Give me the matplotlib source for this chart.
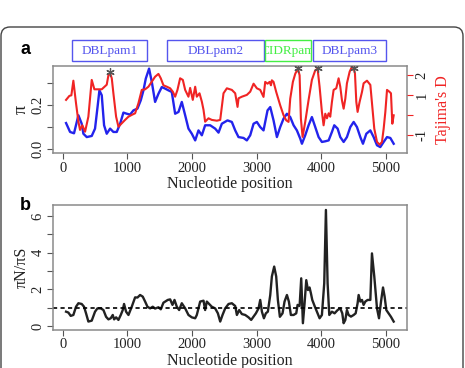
import matplotlib as mpl
import matplotlib.pyplot as plt
from matplotlib.patches import FancyBboxPatch, Rectangle
from matplotlib.transforms import IdentityTransform, blended_transform_factory

mpl.rcParams.update(
    {
        "font.family": "Liberation Serif",
        "font.size": 10,
        "axes.linewidth": 1.1,
        "axes.edgecolor": "#8a8a8a",
        "xtick.major.size": 4,
        "ytick.major.size": 4,
        "xtick.major.pad": 2,
        "ytick.major.pad": 2,
    }
)

# ---- panel a: nucleotide diversity (pi) ----
pi_pos = [52, 114, 175, 243, 294, 320, 372, 449, 500, 542, 568, 604, 640, 681, 733,
          784, 836, 888, 939, 991, 1042, 1094, 1156, 1207, 1249, 1285, 1336, 1378,
          1429, 1481, 1533, 1584, 1636, 1687, 1739, 1791, 1842, 1894, 1945, 1997,
          2049, 2100, 2152, 2203, 2281, 2358, 2410, 2461, 2549, 2616, 2668, 2719,
          2797, 2848, 2900, 2952, 3003, 3055, 3106, 3132, 3168, 3210, 3261, 3313,
          3364, 3416, 3468, 3519, 3571, 3622, 3674, 3700, 3751, 3803, 3854, 3906,
          3958, 4009, 4061, 4113, 4164, 4200, 4252, 4293, 4345, 4396, 4448, 4500,
          4551, 4603, 4644, 4696, 4758, 4809, 4861, 4912, 4964, 5016, 5067, 5119]
pi_val = [0.118, 0.078, 0.072, 0.153, 0.115, 0.070, 0.055, 0.060, 0.093, 0.198,
          0.265, 0.243, 0.108, 0.070, 0.093, 0.078, 0.078, 0.115, 0.165, 0.160,
          0.156, 0.175, 0.183, 0.220, 0.265, 0.318, 0.363, 0.303, 0.213, 0.250,
          0.280, 0.273, 0.265, 0.258, 0.160, 0.168, 0.213, 0.153, 0.093, 0.070,
          0.040, 0.085, 0.063, 0.108, 0.108, 0.093, 0.075, 0.115, 0.130, 0.123,
          0.085, 0.055, 0.051, 0.040, 0.063, 0.115, 0.123, 0.100, 0.085, 0.123,
          0.175, 0.190, 0.130, 0.055, 0.100, 0.138, 0.160, 0.145, 0.108, 0.085,
          0.048, 0.025, 0.063, 0.108, 0.145, 0.100, 0.055, 0.033, 0.036, 0.040,
          0.078, 0.108, 0.093, 0.055, 0.033, 0.055, 0.100, 0.123, 0.100, 0.055,
          0.025, 0.070, 0.085, 0.055, 0.018, 0.010, 0.033, 0.055, 0.051, 0.025]

# Tajima's D
d_pos = [52, 103, 134, 165, 206, 243, 268, 304, 346, 397, 449, 490, 552, 604, 655,
         681, 707, 733, 759, 784, 826, 862, 913, 965, 1017, 1068, 1120, 1171, 1223,
         1275, 1326, 1378, 1429, 1481, 1517, 1558, 1610, 1662, 1703, 1739, 1775,
         1816, 1858, 1894, 1945, 1971, 2012, 2049, 2074, 2116, 2152, 2178, 2203,
         2255, 2306, 2384, 2436, 2487, 2539, 2616, 2668, 2704, 2720, 2771, 2848,
         2900, 2952, 3003, 3055, 3106, 3132, 3168, 3200, 3221, 3235, 3261, 3302,
         3364, 3416, 3457, 3493, 3519, 3560, 3597, 3638, 3664, 3684, 3710, 3751,
         3803, 3854, 3906, 3942, 3973, 4009, 4035, 4061, 4087, 4113, 4138, 4164,
         4190, 4231, 4267, 4293, 4319, 4345, 4371, 4396, 4438, 4474, 4500, 4520,
         4541, 4561, 4592, 4629, 4654, 4706, 4758, 4783, 4819, 4861, 4902, 4938,
         4964, 4990, 5016, 5052, 5077, 5098, 5119]
d_val = [0.77, 0.97, 1.0, 1.73, 0.6, -0.32, -0.73, -0.5, -0.82, -0.07, 1.77, 1.3,
         1.3, 1.3, 1.45, 1.53, 2.0, 2.1, 1.85, 1.1, -0.07, -0.57, -0.4, -0.23,
         -0.07, 0.02, 0.1, 0.6, 1.27, 1.3, 1.43, 1.68, 1.93, 2.07, 1.85, 1.5,
         1.43, 1.35, 1.18, 0.93, 1.27, 1.85, 1.77, 1.27, 0.93, 1.37, 0.77, 1.43,
         0.93, 1.1, 0.68, 0.27, -0.32, -0.15, -0.23, -0.27, -0.23, 1.1, 1.35,
         1.27, 1.1, 0.42, 0.85, 0.93, 1.02, 1.18, 1.58, 1.35, 1.27, 0.92, 1.67,
         1.58, 1.67, 1.5, 1.75, 1.67, 1.17, 0.5, 0.0, -0.25, -0.33, 0.83, 1.67,
         2.08, 2.33, 2.0, -0.17, -1.08, -0.33, 0.77, 1.77, 2.25, 2.33, 1.43, 0.17,
         -0.5, 0.08, -0.15, 0.1, -0.07, 0.67, 1.27, 1.35, 1.85, 1.43, 0.75, 0.33,
         0.83, 1.6, 2.18, 2.43, 2.35, 2.1, 0.67, 0.17, 0.67, 1.17, 1.6, 1.73, 1.52,
         0.6, -0.67, -1.33, -1.47, -1.33, -0.67, 0.17, 1.27, 1.18, 1.1, -0.42, 0.0]

# significant Tajima's D windows
star_pos = [733, 3638, 3942, 4500]
star_val = [2.15, 2.35, 2.35, 2.35]

# domain annotation
domains = ["DBLpam1", "DBLpam2", "CIDRpam", "DBLpam3"]
dom_start = [140, 1610, 3130, 3870]
dom_end = [1305, 3116, 3840, 5000]
dom_color = ["#5555ee", "#5555ee", "#44ee44", "#5555ee"]

# ---- panel b: piN/piS ----
r_pos = [52, 88, 124, 165, 206, 243, 294, 330, 361, 397, 449, 500, 537, 588, 630,
         671, 707, 743, 774, 795, 826, 862, 898, 929, 949, 980, 1017, 1068, 1120,
         1156, 1197, 1238, 1275, 1311, 1352, 1393, 1429, 1481, 1517, 1558, 1584,
         1625, 1662, 1698, 1729, 1765, 1801, 1842, 1894, 1945, 1997, 2049, 2074,
         2126, 2178, 2203, 2229, 2265, 2306, 2358, 2400, 2436, 2472, 2513, 2565,
         2616, 2668, 2694, 2730, 2771, 2823, 2874, 2915, 2952, 2988, 3029, 3055,
         3081, 3112, 3142, 3173, 3210, 3235, 3271, 3302, 3328, 3359, 3400, 3431,
         3468, 3498, 3529, 3571, 3612, 3633, 3664, 3689, 3715, 3741, 3767, 3793,
         3818, 3839, 3860, 3896, 3932, 3973, 4009, 4045, 4071, 4097, 4123, 4164,
         4205, 4252, 4293, 4324, 4345, 4371, 4396, 4422, 4458, 4500, 4531, 4561,
         4577, 4603, 4629, 4654, 4680, 4716, 4758, 4783, 4819, 4861, 4892, 4923,
         4954, 4979, 5005, 5041, 5077, 5119]
r_val = [0.78, 0.73, 0.55, 0.6, 1.05, 1.24, 1.2, 1.05, 0.69, 0.24, 0.29, 0.78,
         0.96, 0.96, 0.87, 0.5, 0.36, 0.42, 0.6, 0.36, 0.47, 0.33, 0.6, 0.87, 1.2,
         0.78, 0.6, 1.05, 1.56, 1.55, 1.69, 1.6, 1.33, 1.05, 0.96, 1.05, 0.95,
         1.02, 0.91, 1.27, 1.33, 1.42, 1.45, 1.15, 1.42, 1.05, 0.87, 1.24, 0.96,
         0.6, 0.47, 0.42, 0.6, 1.33, 1.38, 0.87, 1.33, 1.2, 1.05, 0.96, 0.69,
         0.24, 0.6, 0.96, 1.2, 1.24, 1.09, 0.6, 0.87, 0.65, 0.6, 0.47, 0.33, 0.51,
         0.69, 0.96, 1.42, 0.78, 0.42, 0.69, 0.78, 1.69, 2.7, 3.24, 2.7, 1.42,
         0.5, 0.69, 1.33, 1.69, 1.33, 0.6, 0.6, 0.69, 1.15, 1.09, 2.6, 0.15, 1.24,
         2.5, 1.96, 2.1, 1.78, 1.42, 1.09, 0.78, 0.42, 0.6, 2.33, 6.33, 2.33, 0.6,
         0.78, 0.69, 0.87, 0.96, 0.69, 0.15, 0.33, 0.87, 0.6, 0.51, 0.6, 0.69,
         1.24, 1.69, 1.33, 1.42, 1.15, 1.33, 1.42, 1.42, 3.96, 2.7, 0.96, 0.42,
         1.33, 2.1, 1.6, 0.87, 0.69, 0.5, 0.24]

X_TICKS = [0, 1000, 2000, 3000, 4000, 5000]
BLUE = "#2323ec"
RED = "#f02424"
GRAY = "#555555"


def style_axes(ax):
    ax.set_xlim(-150, 5325)
    ax.set_xticks(X_TICKS)
    ax.tick_params(colors=GRAY, labelcolor="#222222", labelsize=10.5)
    ax.tick_params(axis="y", labelrotation=90)
    for lab in ax.get_yticklabels():
        lab.set_va("center")
    ax.set_xlabel("Nucleotide position", fontsize=11.5, labelpad=1, color="#222222")


fig = plt.figure(figsize=(4.65, 3.68), dpi=100)

# outer rounded frame
frame = FancyBboxPatch((1, -20), 462, 368 - 27 + 20,
                       boxstyle="round,pad=0,rounding_size=9",
                       transform=IdentityTransform(), fill=False,
                       ec="#444444", lw=1.0)
fig.add_artist(frame)

# --- panel a ---
ax1 = fig.add_axes([53 / 465, 1 - 153.3 / 368, 354 / 465, 87.6 / 368])
ax1.plot(pi_pos, pi_val, color=BLUE, lw=1.7)
ax1.set_ylim(-0.018, 0.376)
ax1.set_yticks([0.0, 0.1, 0.2, 0.3])
ax1.set_yticklabels(["0.0", "", "0.2", ""])
ax1.set_ylabel("π", fontsize=13, color="#222222")
ax1.yaxis.set_label_coords(-0.066, 0.5)
style_axes(ax1)

ax2 = ax1.twinx()
ax2.plot(d_pos, d_val, color=RED, lw=1.5)
ax2.plot(star_pos, star_val, ls="none", marker=(6, 2, 0), ms=6, mew=0.9,
         color="#555555")
ax2.set_ylim(-1.9, 2.48)
ax2.set_yticks([-1, 0, 1, 2])
ax2.set_yticklabels(["-1", "", "1", "2"])
ax2.tick_params(axis="y", colors=RED, labelcolor="#222222", labelrotation=90,
                labelsize=10.5)
for lab in ax2.get_yticklabels():
    lab.set_va("center")
for s in ax2.spines.values():
    s.set_visible(False)
ax2.set_ylabel("Tajima's D", color=RED, fontsize=11.5, rotation=90)
ax2.yaxis.set_label_coords(1.08, 0.5)

# domain boxes above panel a
trans = blended_transform_factory(ax1.transData, ax1.transAxes)
for name, x0, x1, col in zip(domains, dom_start, dom_end, dom_color):
    rect = Rectangle((x0, 1.05), x1 - x0, 0.247, transform=trans, fill=False,
                     ec=col, lw=1.0, clip_on=False)
    ax1.add_patch(rect)
    t = ax1.text((x0 + x1) / 2, 1.17, name, transform=trans, ha="center",
                 va="center", color=col, fontsize=9.5, clip_on=False)
    t.set_clip_path(rect)
    t.set_clip_on(True)

# --- panel b ---
ax3 = fig.add_axes([53 / 465, 1 - 330 / 368, 354 / 465, 125 / 368])
ax3.plot(r_pos, r_val, color="#222222", lw=1.7)
ax3.axhline(1, color="black", lw=1.2, ls=(0, (2.5, 2)))
ax3.set_ylim(-0.22, 6.6)
ax3.set_yticks([0, 1, 2, 3, 4, 5, 6])
ax3.set_yticklabels(["0", "", "2", "", "4", "", "6"])
ax3.set_ylabel("πN/πS", fontsize=11.5, color="#222222")
ax3.yaxis.set_label_coords(-0.066, 0.5)
style_axes(ax3)

fig.text(25 / 465, 1 - 49 / 368, "a", fontsize=13, fontweight="bold",
         family="Liberation Sans", ha="center", va="center")
fig.text(25 / 465, 1 - 205 / 368, "b", fontsize=13, fontweight="bold",
         family="Liberation Sans", ha="center", va="center")

fig.savefig("out.png", dpi=100)
